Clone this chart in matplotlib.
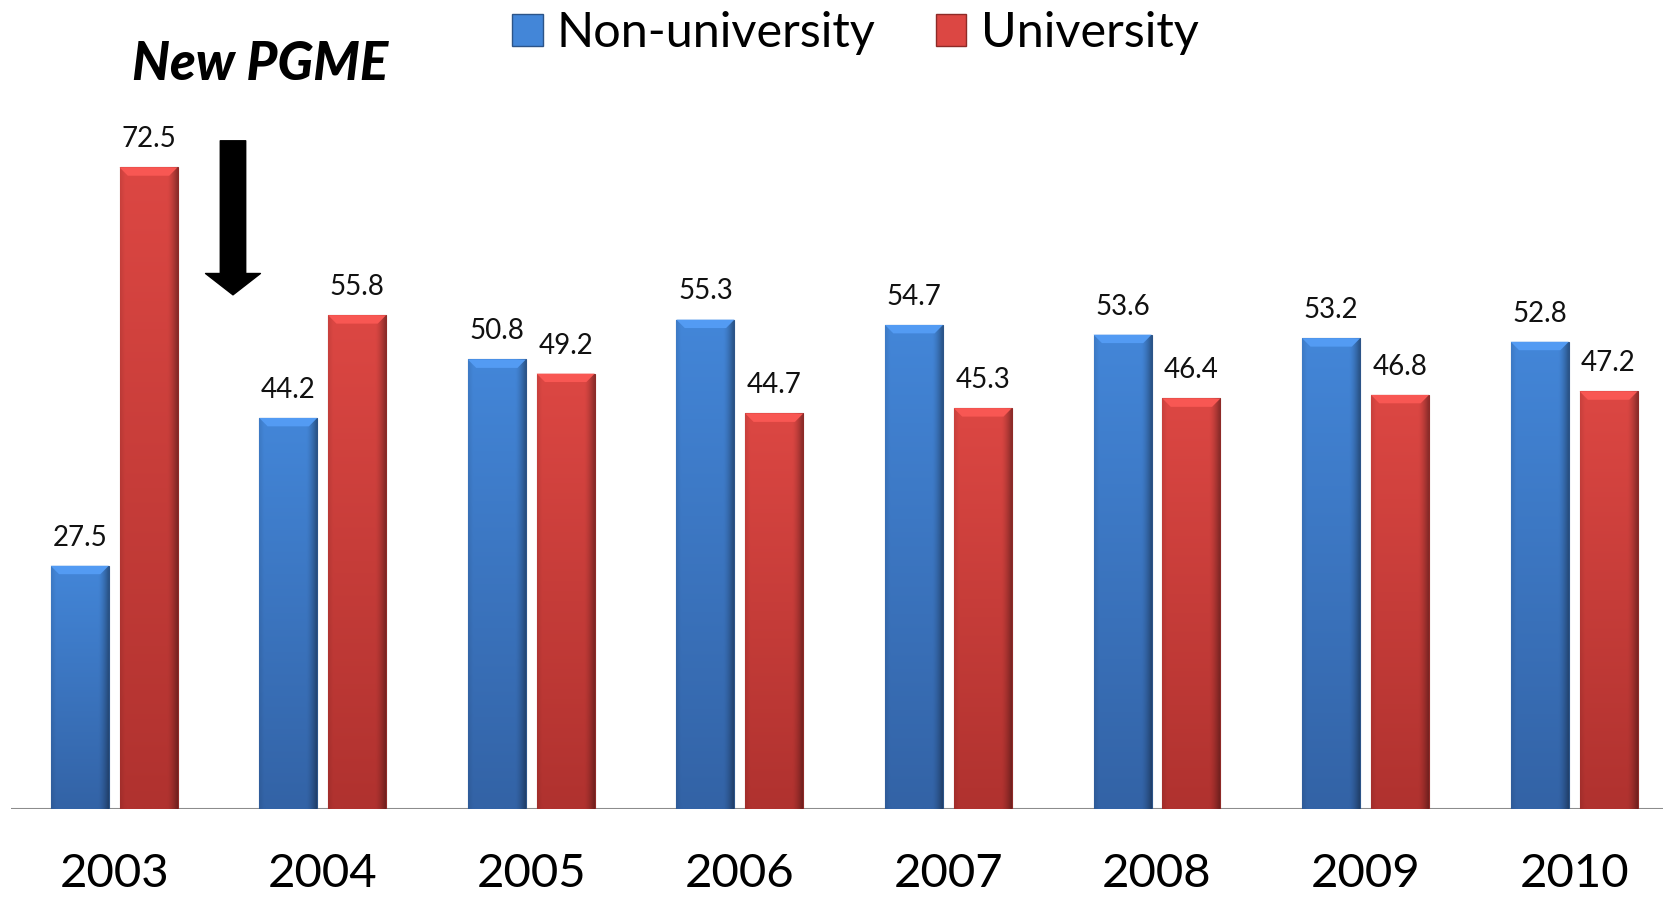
import numpy as np
import matplotlib
matplotlib.use("Agg")
import matplotlib.pyplot as plt
from matplotlib.patches import Rectangle, Polygon

years = ["2003", "2004", "2005", "2006", "2007", "2008", "2009", "2010"]
non_university = [27.5, 44.2, 50.8, 55.3, 54.7, 53.6, 53.2, 52.8]
university = [72.5, 55.8, 49.2, 44.7, 45.3, 46.4, 46.8, 47.2]
series_names = ["Non-university", "University"]

font = "Lato"

blue_top, blue_bot = np.array([0x43, 0x86, 0xd8]) / 255, np.array([0x33, 0x63, 0xa6]) / 255
red_top, red_bot = np.array([0xdc, 0x47, 0x43]) / 255, np.array([0xb0, 0x32, 0x2f]) / 255

fig = plt.figure(figsize=(16.63, 8.97), dpi=100)
ax = fig.add_axes([0.0064, 0.0978, 0.9936, 0.9022])

x = np.arange(len(years))
w = 0.278
off = 0.165


def shade_bar(bar, ctop, cbot):
    x0, y0 = bar.get_x(), bar.get_y()
    bw, bh = bar.get_width(), bar.get_height()
    ny, nx = 80, 40
    t = np.linspace(0, 1, ny)[:, None]
    col = ctop[None, None, :] * (1 - t[..., None]) + cbot[None, None, :] * t[..., None]
    xs = np.linspace(0, 1, nx)
    f = 1 - 0.35 * np.clip((xs - 0.82) / 0.18, 0, 1) ** 1.5 - 0.08 * np.clip((0.08 - xs) / 0.08, 0, 1)
    img = np.clip(col * f[None, :, None], 0, 1)
    im = ax.imshow(img, extent=(x0, x0 + bw, y0, y0 + bh), origin="upper",
                   aspect="auto", zorder=3, interpolation="bilinear")
    im.set_clip_path(bar)
    # bevel on top
    bev_h, bev_w = 0.95, 0.04
    top = y0 + bh
    light = np.clip(ctop * 1.08 + 0.04, 0, 1)
    ax.add_patch(Polygon([(x0, top), (x0 + bw, top), (x0 + bw - bev_w, top - bev_h),
                          (x0 + bev_w, top - bev_h)], closed=True,
                         facecolor=light, edgecolor="none", zorder=4))


bars_nu = ax.bar(x - off, non_university, w, color=blue_bot, edgecolor="#2c5488",
                 linewidth=0.8, zorder=2)
bars_u = ax.bar(x + off, university, w, color=red_bot, edgecolor="#8e2a27",
                linewidth=0.8, zorder=2)

for b in bars_nu:
    shade_bar(b, blue_top, blue_bot)
for b in bars_u:
    shade_bar(b, red_top, red_bot)

for bars, vals in [(bars_nu, non_university), (bars_u, university)]:
    for b, v in zip(bars, vals):
        ax.annotate(f"{v:.1f}", (b.get_x() + b.get_width() / 2, v), xytext=(0, 14.5),
                    textcoords="offset points", ha="center", va="baseline",
                    fontsize=20, family=font, color="#111111", zorder=5)

# year labels under each group
for xi, yr in zip(x, years):
    ax.text(xi, -8.8, yr, ha="center", va="baseline", fontsize=34, family=font,
            color="black", clip_on=False)

ax.axhline(0, color="#8c8c8c", lw=1.5, zorder=1)

# arrow marking the new programme
ax.annotate("", xy=(0.570, 58.1), xytext=(0.570, 75.5),
            arrowprops=dict(arrowstyle="simple,head_length=0.84,head_width=2.16,tail_width=1.0",
                            mutation_scale=18.3, color="black", shrinkA=0, shrinkB=0))
fig.text(0.1565, 0.928, "New PGME", ha="center", va="center", fontsize=38,
         family=font, weight="black", style="italic", color="black")

ax.set_xlim(-0.496, 7.426)
ax.set_ylim(0, 91.4)
ax.axis("off")

handles = [Rectangle((0, 0), 1, 1, facecolor=blue_top, edgecolor="#2c5488"),
           Rectangle((0, 0), 1, 1, facecolor=red_top, edgecolor="#8e2a27")]
fig.legend(handles, series_names, loc="upper left", bbox_to_anchor=(0.2935, 1.0145),
           ncol=2, frameon=False, borderpad=0, handlelength=0.62, handleheight=0.62,
           handletextpad=0.29, columnspacing=1.25, prop={"family": font, "size": 35})

fig.savefig("out.png", dpi=100)
